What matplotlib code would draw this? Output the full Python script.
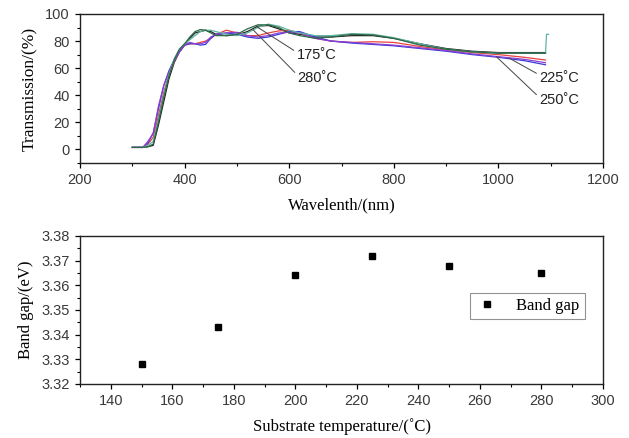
import matplotlib.pyplot as plt
from matplotlib.ticker import MultipleLocator, FormatStrFormatter

# Transmission spectra
wl = [300, 320, 330, 340, 350, 360, 370, 380, 390, 400, 410, 420, 430, 440, 450, 460, 480, 500,
      520, 540, 560, 580, 600, 620, 650, 680, 720, 760, 800, 850, 900, 950, 1000, 1050, 1090]

t_black = [1.5, 1.5, 2, 3, 18, 35, 52, 64, 72, 77, 82, 86, 87, 88, 87, 85, 84, 84.5,
           87, 91, 91.5, 89, 86, 85, 83, 83, 84, 84, 82, 78, 74.5, 72.5, 71.5, 71.5, 71.5]
t_red = [1.5, 1.5, 4, 9, 25, 42, 55, 65, 72, 77, 78, 78, 79, 80, 82, 85, 88, 86,
         84, 84, 86, 87.5, 88, 86, 82, 80, 79, 79.5, 79, 76, 73.5, 71.5, 70, 68, 66]
t_green = [1.5, 1.5, 2, 4, 20, 38, 54, 66, 74, 78, 83, 87, 88.5, 88, 86, 84, 84, 85,
           89, 92, 92, 90, 86, 84, 82, 83, 85, 84.5, 82, 77, 74, 72, 71, 71, 71]
t_blue = [1.5, 1.5, 5, 12, 30, 47, 58, 66, 72, 77, 78, 78, 77, 77.5, 82, 85, 86, 85,
          83, 82, 83, 85, 87, 87, 83, 80, 78.5, 77.5, 76.5, 74.5, 72.5, 70, 68, 65.5, 62.5]
t_cyan = [1.5, 1.5, 3, 6, 22, 40, 55, 67, 74, 78, 81, 84, 87, 88, 88, 87, 85, 84,
          86, 90, 92.5, 91, 88, 86, 84, 84, 85.5, 85, 82.5, 78, 74, 72, 71, 71, 71]
t_magenta = [1.5, 1.5, 6, 12, 32, 47, 57, 65, 72, 77, 79, 78, 78, 79, 83, 85, 86, 86.5,
             84, 83, 84, 86, 86.5, 86, 82, 80, 79, 78, 77, 75, 73, 70.5, 68.5, 66.5, 64]
spike_wl = [1090, 1092, 1096]
spike_t = [71, 85, 85]

# Band gap vs substrate temperature
temps = [150, 175, 200, 225, 250, 280]
gaps = [3.328, 3.343, 3.364, 3.372, 3.368, 3.365]

tick_font = 'Liberation Sans'
label_font = 'Liberation Serif'
tick_col = '#3a3a3a'

fig = plt.figure(figsize=(6.29, 4.38), dpi=100)
ax1 = fig.add_axes([0.1272, 0.6279, 0.8315, 0.3402])
ax2 = fig.add_axes([0.1272, 0.1233, 0.8315, 0.3379])

lw = 0.9
ax1.plot(wl, t_black, color='#222222', lw=lw)
ax1.plot(wl, t_red, color='#e8433e', lw=lw)
ax1.plot(wl, t_blue, color='#3a3ad8', lw=lw)
ax1.plot(wl, t_magenta, color='#8a3fd0', lw=lw)
ax1.plot(wl, t_cyan, color='#5fb3a6', lw=lw)
ax1.plot(spike_wl, spike_t, color='#5fb3a6', lw=lw)
ax1.plot(wl, t_green, color='#2e6b48', lw=lw)

arrow = dict(arrowstyle='-', color='#444444', lw=0.7, shrinkA=0, shrinkB=0, relpos=(0, 0.7))
for txt, xy, xyt in [('175˚C', (537, 90.8), (614, 69.8)),
                     ('280˚C', (531, 88.3), (616, 52.7)),
                     ('225˚C', (1021, 67.3), (1078, 53)),
                     ('250˚C', (996, 68.5), (1078, 36.4))]:
    ax1.annotate(txt, xy=xy, xytext=xyt, ha='left', va='center', fontsize=10.5,
                 family=tick_font, color='#222222', arrowprops=arrow)

ax1.set_xlim(200, 1200)
ax1.set_ylim(-10, 100)
ax1.xaxis.set_major_locator(MultipleLocator(200))
ax1.xaxis.set_minor_locator(MultipleLocator(100))
ax1.yaxis.set_major_locator(MultipleLocator(20))
ax1.yaxis.set_minor_locator(MultipleLocator(10))
ax1.set_xlabel('Wavelenth/(nm)', family=label_font, fontsize=12, labelpad=7)
ax1.set_ylabel('Transmission/(%)', family=label_font, fontsize=12.5, labelpad=5)

ax2.plot(temps, gaps, 's', color='black', markersize=5, label='Band gap')
ax2.set_xlim(130, 300)
ax2.set_ylim(3.32, 3.38)
ax2.xaxis.set_major_locator(MultipleLocator(20))
ax2.xaxis.set_minor_locator(MultipleLocator(10))
ax2.yaxis.set_major_locator(MultipleLocator(0.01))
ax2.yaxis.set_minor_locator(MultipleLocator(0.005))
ax2.yaxis.set_major_formatter(FormatStrFormatter('%.2f'))
ax2.set_xlabel('Substrate temperature/(˚C)', family=label_font, fontsize=12, labelpad=7)
ax2.set_ylabel('Band gap/(eV)', family=label_font, fontsize=12, labelpad=5)
leg = ax2.legend(loc='center', bbox_to_anchor=(0.855, 0.526), frameon=True, fancybox=False,
                 edgecolor='#777777', prop={'family': label_font, 'size': 12},
                 handletextpad=1.0, borderpad=0.3, handlelength=1.5)
leg.get_frame().set_linewidth(0.8)

for ax in (ax1, ax2):
    for sp in ax.spines.values():
        sp.set_color('#222222')
        sp.set_linewidth(1.0)
    ax.tick_params(which='major', direction='out', length=3.5, width=0.9, pad=4,
                   labelsize=10.5, labelcolor=tick_col, top=False, right=False)
    ax.tick_params(which='minor', direction='out', length=2, width=0.8, top=False, right=False)
    for lab in ax.get_xticklabels() + ax.get_yticklabels():
        lab.set_family(tick_font)

fig.savefig('out.png', dpi=100)
